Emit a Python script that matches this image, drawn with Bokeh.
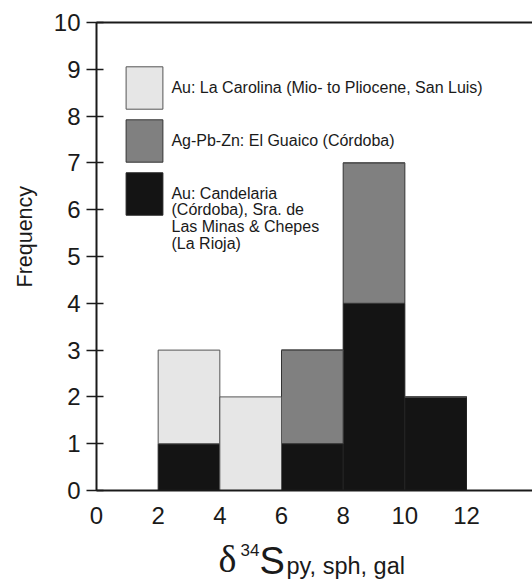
from bokeh.plotting import figure
from bokeh.models import (Legend, LegendItem, Label, FixedTicker, LinearAxis, Range1d, Title)
from bokeh.embed import file_html
from bokeh.resources import INLINE

# ---- data ----
bin_left = [2, 4, 6, 8, 10]
bin_width = 2
candelaria = [1, 0, 1, 4, 2]   # black
guaico = [0, 0, 2, 3, 0]       # gray
carolina = [2, 2, 0, 0, 0]     # light gray
x_ticks = [0, 2, 4, 6, 8, 10, 12]
y_ticks = list(range(0, 11))
labels = ["Au: La Carolina (Mio- to Pliocene, San Luis)",
          "Ag-Pb-Zn: El Guaico (Córdoba)",
          "Au: Candelaria"]
label3_rest = "(Córdoba), Sra. de\nLas Minas & Chepes\n(La Rioja)"

centers = [b + bin_width / 2 for b in bin_left]
data = dict(x=centers, cand=candelaria, guaico=guaico, carol=carolina)

FONT = "Liberation Sans"
INK = "#1a1a1a"

p = figure(frame_width=436, frame_height=468, title=None,
           min_border_left=96, min_border_right=0, min_border_top=22, min_border_bottom=48,
           x_range=Range1d(0, 14.14), y_range=Range1d(0, 10),
           output_backend="svg", toolbar_location=None)
p.grid.visible = False
p.outline_line_color = None
p.background_fill_color = "white"

rs = p.vbar_stack(["cand", "guaico", "carol"], x="x", width=bin_width, source=data,
                  fill_color=["#141414", "#808080", "#e6e6e6"],
                  line_color=["#222222", "#333333", "#555555"], line_width=1)

# axes
xa = p.xaxis[0]
xa.ticker = FixedTicker(ticks=x_ticks)
xa.major_tick_out = 0
xa.major_tick_in = 0
xa.minor_tick_out = 0
xa.minor_tick_in = 0
xa.axis_line_width = 2
xa.axis_line_color = INK
xa.major_label_text_font = FONT
xa.major_label_text_font_size = "24px"
xa.major_label_text_color = INK
xa.major_label_standoff = 16

ya = p.yaxis[0]
ya.ticker = FixedTicker(ticks=y_ticks)
ya.major_tick_out = 10
ya.major_tick_in = 7
ya.major_tick_line_width = 1.5
ya.major_tick_line_color = INK
ya.minor_tick_out = 0
ya.minor_tick_in = 0
ya.axis_line_width = 2
ya.axis_line_color = INK
ya.major_label_text_font = FONT
ya.major_label_text_font_size = "24px"
ya.major_label_text_color = INK
ya.major_label_standoff = 6

top = LinearAxis(ticker=FixedTicker(ticks=[]), major_label_text_font_size="0px",
                 axis_line_width=2, axis_line_color=INK,
                 major_tick_out=0, major_tick_in=0, minor_tick_out=0, minor_tick_in=0)
p.add_layout(top, "above")

p.add_layout(Title(text="Frequency", align="left", offset=203, standoff=24,
                   vertical_align="top",
                   text_font=FONT, text_font_size="21.5px", text_font_style="normal",
                   text_color=INK), "left")

# pixel -> data helpers for text placement inside the frame
def dx(px):
    return (px - 96) / 30.83

def dy(py):
    return (490 - py) / 46.8

legend = Legend(items=[LegendItem(label=labels[0], renderers=[rs[2]]),
                       LegendItem(label=labels[1], renderers=[rs[1]]),
                       LegendItem(label=labels[2], renderers=[rs[0]])],
                location=(30 - 4.6, 490 - 215 - 5.3),
                glyph_width=46, glyph_height=53, spacing=0,
                padding=0, margin=0, border_line_color=None, background_fill_alpha=0,
                label_text_font=FONT, label_text_font_size="16px", label_text_color=INK,
                label_standoff=4)
p.add_layout(legend, "center")

p.add_layout(Label(x=dx(171), y=dy(226), text=label3_rest, text_align="left",
                   text_baseline="middle", text_font=FONT, text_font_size="16px",
                   text_line_height=1.0, text_color=INK))

# x-axis title in its own strip below the chart (separate root, pixel-unit ranges)
q = figure(frame_width=532, frame_height=42, title=None, min_border=0,
           x_range=Range1d(0, 532), y_range=Range1d(0, 42),
           x_axis_type=None, y_axis_type=None,
           output_backend="svg", toolbar_location=None)
q.grid.visible = False
q.outline_line_color = None

BASE = 580
def by(py):
    return BASE - py

q.add_layout(Label(x=218, y=by(558), text="δ", text_font="Liberation Serif",
                   text_font_size="38px", text_baseline="middle", text_color=INK))
q.add_layout(Label(x=240, y=by(549), text="34", text_font=FONT,
                   text_font_size="17px", text_baseline="middle", text_color=INK))
q.add_layout(Label(x=259, y=by(560), text="S", text_font=FONT,
                   text_font_size="38px", text_baseline="middle", text_color=INK))
q.add_layout(Label(x=286, y=by(565.5), text="py, sph, gal", text_font=FONT,
                   text_font_size="23.5px", text_baseline="middle", text_color=INK))

open("out.html", "w").write(file_html([p, q], INLINE))
